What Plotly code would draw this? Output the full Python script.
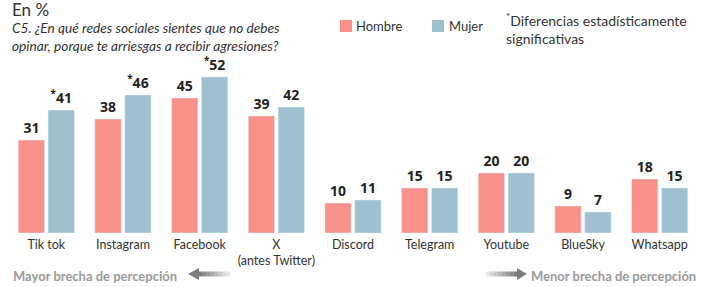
import plotly.graph_objects as go

categories = ["Tik tok", "Instagram", "Facebook", "X<br>(antes Twitter)", "Discord",
              "Telegram", "Youtube", "BlueSky", "Whatsapp"]
hombre = [31, 38, 45, 39, 10, 15, 20, 9, 18]
mujer = [41, 46, 52, 42, 11, 15, 20, 7, 15]
mujer_sig = [True, True, True, False, False, False, False, False, False]

C_H = "#F7918A"
C_M = "#9FC0CF"

W, H = 714, 287
L, R = 8, 698
T, B = 60, 233


def px(x):
    return (x - L) / (R - L)


def py(y):
    return (B - y) / (B - T)


def lab(v, s):
    return ("<sup>*</sup>" if s else "") + str(v)


fig = go.Figure()
fig.add_trace(go.Bar(x=categories, y=hombre, name="Hombre", marker_color=C_H,
                     text=[lab(v, False) for v in hombre], textposition="outside",
                     textfont=dict(family="Open Sans", size=14, color="#222222", weight="bold"),
                     cliponaxis=False, showlegend=False, hoverinfo="skip"))
fig.add_trace(go.Bar(x=categories, y=mujer, name="Mujer", marker_color=C_M,
                     text=[lab(v, s) for v, s in zip(mujer, mujer_sig)], textposition="outside",
                     textfont=dict(family="Open Sans", size=14, color="#222222", weight="bold"),
                     cliponaxis=False, showlegend=False, hoverinfo="skip"))

ann = []
ann.append(dict(x=px(10), y=py(9), xref="paper", yref="paper", text="En %", showarrow=False,
                xanchor="left", yanchor="middle", font=dict(family="Lato", size=17, color="#333333")))
ann.append(dict(x=px(10), y=py(36), xref="paper", yref="paper",
                text="<i>C5. ¿En qué redes sociales sientes que no debes<br>opinar, porque te arriesgas a recibir agresiones?</i>",
                showarrow=False, xanchor="left", yanchor="middle", align="left",
                font=dict(family="Lato", size=13.7, color="#333333")))
ann.append(dict(x=px(354), y=py(26), xref="paper", yref="paper", text="Hombre", showarrow=False,
                xanchor="left", yanchor="middle", font=dict(family="Lato", size=13, color="#333333")))
ann.append(dict(x=px(447), y=py(26), xref="paper", yref="paper", text="Mujer", showarrow=False,
                xanchor="left", yanchor="middle", font=dict(family="Lato", size=13, color="#333333")))
ann.append(dict(x=px(504), y=py(28), xref="paper", yref="paper",
                text="<sup>*</sup>Diferencias estadísticamente<br>significativas", showarrow=False,
                xanchor="left", yanchor="middle", align="left",
                font=dict(family="Lato", size=14, color="#333333")))
ann.append(dict(x=px(11), y=py(276), xref="paper", yref="paper", text="<b>Mayor brecha de percepción</b>",
                showarrow=False, xanchor="left", yanchor="middle",
                font=dict(family="Lato", size=13, color="#9a9a9a")))
ann.append(dict(x=px(698), y=py(276), xref="paper", yref="paper", text="<b>Menor brecha de percepción</b>",
                showarrow=False, xanchor="right", yanchor="middle",
                font=dict(family="Lato", size=13, color="#9a9a9a")))

shapes = []
shapes.append(dict(type="rect", xref="paper", yref="paper", x0=px(340), x1=px(352), y0=py(20), y1=py(32),
                   fillcolor=C_H, line_width=0))
shapes.append(dict(type="rect", xref="paper", yref="paper", x0=px(432), x1=px(444), y0=py(20), y1=py(32),
                   fillcolor=C_M, line_width=0))

# gradient arrows
n = 8
for i in range(n):
    xa = 198 + i * 4
    g = int(125 + i * 120 / n)
    shapes.append(dict(type="rect", xref="paper", yref="paper", x0=px(xa), x1=px(xa + 4.2),
                       y0=py(271.5), y1=py(276.5), fillcolor=f"rgb({g},{g},{g})", line_width=0))
    xb = 518 - (i + 1) * 4
    shapes.append(dict(type="rect", xref="paper", yref="paper", x0=px(xb - 0.2), x1=px(xb + 4),
                       y0=py(271.5), y1=py(276.5), fillcolor=f"rgb({g},{g},{g})", line_width=0))
shapes.append(dict(type="path", xref="paper", yref="paper",
                   path=f"M {px(188)} {py(274)} L {px(199)} {py(268)} L {px(199)} {py(280)} Z",
                   fillcolor="rgb(125,125,125)", line_width=0))
shapes.append(dict(type="path", xref="paper", yref="paper",
                   path=f"M {px(527)} {py(274)} L {px(517)} {py(268)} L {px(517)} {py(280)} Z",
                   fillcolor="rgb(125,125,125)", line_width=0))

fig.update_layout(
    width=W, height=H,
    margin=dict(l=L, r=W - R, t=T, b=H - B, pad=0),
    paper_bgcolor="white", plot_bgcolor="white",
    barmode="group", bargap=0.22, bargroupgap=0.12,
    annotations=ann, shapes=shapes,
    xaxis=dict(showgrid=False, showline=False, ticks="", zeroline=False, automargin=False,
               ticklabelstandoff=2,
               tickfont=dict(family="Lato", size=12.5, color="#333333")),
    yaxis=dict(range=[0, (B - T) / 3.0], visible=False, showgrid=False, zeroline=False),
    uniformtext=dict(mode=False),
)

fig.write_html("out.html", config={"displayModeBar": False, "staticPlot": True},
               post_script="document.body.style.margin='0';document.body.style.overflow='hidden';")
